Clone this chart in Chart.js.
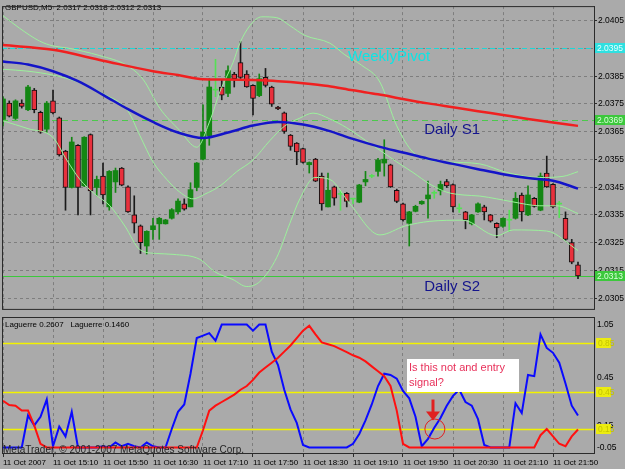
<!DOCTYPE html>
<html>
<head>
<meta charset="utf-8">
<script src="https://cdn.jsdelivr.net/npm/chart.js@4/dist/chart.umd.min.js"></script>
<style>
  html, body { margin: 0; padding: 0; background: #aaaaaa; }
  #wrap { position: relative; width: 625px; height: 469px; overflow: hidden; background: #aaaaaa; }
  #top { position: absolute; left: 0; top: 0; }
  #bot { position: absolute; left: 0; top: 315px; }
</style>
</head>
<body>
<div id="wrap">
  <canvas id="top" width="625" height="315"></canvas>
  <canvas id="bot" width="625" height="154"></canvas>
</div>
<script>
// ---------- data (GBPUSD M5, 11 Oct 2007 14:30 - 22:10) ----------
const timeLabels = ['11 Oct 2007', '11 Oct 15:10', '11 Oct 15:50', '11 Oct 16:30', '11 Oct 17:10', '11 Oct 17:50',
  '11 Oct 18:30', '11 Oct 19:10', '11 Oct 19:50', '11 Oct 20:30', '11 Oct 21:10', '11 Oct 21:50'];
const timeTickIdx = [0, 8, 16, 24, 32, 40, 48, 56, 64, 72, 80, 88];
const priceTicks = [2.0405, 2.0395, 2.0385, 2.0375, 2.0365, 2.0355, 2.0345, 2.0335, 2.0325, 2.0315, 2.0305];

const opens = [
  2.03694, 2.03753, 2.03698, 2.03753, 2.03729, 2.03800, 2.03720, 2.03659, 2.03761, 2.03700,
  2.03580, 2.03449, 2.03601, 2.03455, 2.03640, 2.03449, 2.03490, 2.03379, 2.03469, 2.03519,
  2.03451, 2.03350, 2.03311, 2.03238, 2.03297, 2.03318, 2.03318, 2.03338, 2.03361, 2.03390,
  2.03379, 2.03449, 2.03551, 2.03636, 2.03800, 2.03811, 2.03788, 2.03858, 2.03899, 2.03858,
  2.03817, 2.03780, 2.03846, 2.03811, 2.03739, 2.03718, 2.03638, 2.03609, 2.03589, 2.03531,
  2.03551, 2.03490, 2.03379, 2.03451, 2.03424, 2.03428, 2.03407, 2.03396, 2.03469, 2.03489,
  2.03507, 2.03537, 2.03531, 2.03439, 2.03390, 2.03320, 2.03363, 2.03390, 2.03408, 2.03428,
  2.03437, 2.03470, 2.03459, 2.03372, 2.03361, 2.03318, 2.03361, 2.03379, 2.03350, 2.03320,
  2.03309, 2.03331, 2.03338, 2.03422, 2.03350, 2.03410, 2.03367, 2.03501, 2.03460, 2.03389,
  2.03338, 2.03250, 2.03170];
const highs = [
  2.03776, 2.03761, 2.03765, 2.03765, 2.03817, 2.03806, 2.03724, 2.03759, 2.03800, 2.03703,
  2.03583, 2.03630, 2.03604, 2.03632, 2.03642, 2.03490, 2.03537, 2.03510, 2.03519, 2.03521,
  2.03455, 2.03419, 2.03314, 2.03293, 2.03338, 2.03341, 2.03334, 2.03373, 2.03408, 2.03408,
  2.03466, 2.03539, 2.03747, 2.03841, 2.03911, 2.03835, 2.03887, 2.03864, 2.03975, 2.03870,
  2.03819, 2.03858, 2.03878, 2.03814, 2.03741, 2.03721, 2.03640, 2.03611, 2.03591, 2.03541,
  2.03554, 2.03501, 2.03501, 2.03454, 2.03437, 2.03431, 2.03410, 2.03460, 2.03507, 2.03496,
  2.03554, 2.03621, 2.03533, 2.03443, 2.03393, 2.03363, 2.03385, 2.03401, 2.03472, 2.03437,
  2.03472, 2.03478, 2.03462, 2.03390, 2.03363, 2.03352, 2.03394, 2.03385, 2.03352, 2.03322,
  2.03340, 2.03367, 2.03431, 2.03429, 2.03455, 2.03413, 2.03501, 2.03562, 2.03463, 2.03399,
  2.03361, 2.03262, 2.03180];
const lows = [
  2.03671, 2.03703, 2.03694, 2.03735, 2.03726, 2.03718, 2.03644, 2.03648, 2.03714, 2.03562,
  2.03367, 2.03447, 2.03350, 2.03452, 2.03350, 2.03419, 2.03390, 2.03367, 2.03431, 2.03455,
  2.03359, 2.03285, 2.03211, 2.03209, 2.03262, 2.03262, 2.03317, 2.03335, 2.03355, 2.03367,
  2.03379, 2.03437, 2.03548, 2.03601, 2.03776, 2.03765, 2.03776, 2.03811, 2.03840, 2.03810,
  2.03710, 2.03776, 2.03811, 2.03741, 2.03729, 2.03644, 2.03583, 2.03531, 2.03537, 2.03501,
  2.03470, 2.03367, 2.03379, 2.03385, 2.03367, 2.03379, 2.03390, 2.03394, 2.03455, 2.03484,
  2.03490, 2.03490, 2.03449, 2.03394, 2.03328, 2.03238, 2.03361, 2.03388, 2.03338, 2.03410,
  2.03422, 2.03449, 2.03361, 2.03359, 2.03300, 2.03314, 2.03359, 2.03332, 2.03324, 2.03268,
  2.03305, 2.03291, 2.03335, 2.03328, 2.03347, 2.03378, 2.03365, 2.03449, 2.03375, 2.03340,
  2.03258, 2.03174, 2.03120];
const closes = [
  2.03768, 2.03706, 2.03761, 2.03741, 2.03811, 2.03729, 2.03648, 2.03753, 2.03718, 2.03566,
  2.03449, 2.03613, 2.03449, 2.03630, 2.03437, 2.03478, 2.03422, 2.03507, 2.03510, 2.03457,
  2.03361, 2.03320, 2.03250, 2.03291, 2.03311, 2.03338, 2.03332, 2.03369, 2.03400, 2.03371,
  2.03441, 2.03537, 2.03648, 2.03811, 2.03801, 2.03782, 2.03870, 2.03841, 2.03846, 2.03811,
  2.03770, 2.03841, 2.03817, 2.03749, 2.03732, 2.03651, 2.03597, 2.03577, 2.03539, 2.03539,
  2.03472, 2.03390, 2.03439, 2.03410, 2.03426, 2.03399, 2.03409, 2.03458, 2.03478, 2.03491,
  2.03548, 2.03551, 2.03451, 2.03399, 2.03332, 2.03361, 2.03381, 2.03399, 2.03422, 2.03430,
  2.03460, 2.03455, 2.03379, 2.03374, 2.03332, 2.03350, 2.03390, 2.03361, 2.03328, 2.03303,
  2.03338, 2.03333, 2.03410, 2.03361, 2.03422, 2.03381, 2.03490, 2.03451, 2.03379, 2.03391,
  2.03262, 2.03180, 2.03130];

// moving averages and bands as [bar, price]
const maSlow = [[0, 2.03962], [8, 2.03945], [16, 2.03906], [24, 2.03868], [28, 2.03854], [32, 2.03839],
  [36, 2.03838], [40, 2.03836], [44, 2.03832], [48, 2.03825], [52, 2.03815], [56, 2.03799], [60, 2.03785],
  [64, 2.03768], [68, 2.03752], [72, 2.03738], [76, 2.03724], [80, 2.03710], [84, 2.03696], [88, 2.03683],
  [92, 2.03671]];
const maFast = [[0, 2.03903], [4, 2.03892], [8, 2.03868], [12, 2.03832], [16, 2.03783], [20, 2.03731],
  [24, 2.03685], [28, 2.03647], [32, 2.03627], [36, 2.03647], [40, 2.03672], [44, 2.03685], [48, 2.03676],
  [52, 2.03654], [56, 2.03624], [60, 2.03597], [64, 2.03575], [68, 2.03553], [72, 2.03534], [76, 2.03515],
  [80, 2.03497], [84, 2.03483], [88, 2.03473], [92, 2.03445]];
const bandUpper = [[0, 2.04068], [2.7, 2.04022], [5.9, 2.03976], [8, 2.03959], [10.2, 2.03952], [15.5, 2.03924],
  [19.8, 2.03889], [22.4, 2.03839], [25.1, 2.03734], [28.3, 2.03654], [31, 2.03594], [33.1, 2.03689],
  [34.7, 2.03794], [36.8, 2.03899], [37.9, 2.03969], [39.5, 2.04032], [41.4, 2.04064], [43.8, 2.04061],
  [45.9, 2.04032], [48.3, 2.03997], [52.3, 2.03969], [54.7, 2.03927], [57.4, 2.03889], [60.3, 2.03829],
  [63, 2.03671], [65.6, 2.03576], [68.3, 2.03548], [71, 2.03541], [76.3, 2.03534], [80.6, 2.03503],
  [85.9, 2.03485], [89.6, 2.03489], [92, 2.03506]];
const bandMiddle = [[0, 2.03875], [4, 2.03868], [8, 2.03854], [12, 2.03829], [16, 2.03787], [20, 2.03724],
  [21.9, 2.03636], [24, 2.03541], [26.2, 2.03478], [28.3, 2.03432], [30.4, 2.03408], [32.3, 2.03425],
  [34.7, 2.03454], [37.4, 2.03506], [40, 2.03548], [42.7, 2.03618], [45.1, 2.03671], [47.5, 2.03699],
  [49.6, 2.03717], [52.3, 2.03696], [55, 2.03664], [57.6, 2.03625], [60.3, 2.03583], [63, 2.03541],
  [65.6, 2.03503], [68.3, 2.03461], [71, 2.03432], [73.6, 2.03422], [76.3, 2.03418], [79, 2.03408],
  [81.6, 2.03397], [85.9, 2.03383], [88.6, 2.03383], [92, 2.03355]];
const bandLower = [[0, 2.03689], [4, 2.03661], [8, 2.03629], [10.2, 2.03548], [12.3, 2.03478], [14.7, 2.03425],
  [17.1, 2.03383], [19.5, 2.03310], [21.9, 2.03225], [24.6, 2.03211], [27.2, 2.03208], [31.5, 2.03190],
  [33.9, 2.03145], [36.8, 2.03117], [39, 2.03092], [41.1, 2.03110], [43.8, 2.03197], [45.9, 2.03320],
  [47.5, 2.03408], [49.9, 2.03485], [52.3, 2.03478], [55.5, 2.03390], [60.3, 2.03278], [64.3, 2.03310],
  [68.3, 2.03327], [73.6, 2.03331], [79, 2.03275], [81.6, 2.03296], [87, 2.03292], [92, 2.03222]];

const weeklyPivot = 2.03952;
const dailyS1 = 2.03692;
const dailyS2 = 2.03130;

// Laguerre indicator window
const lagFast = [0, 0, 0, 0, 0.26, 0.18, 0.25, 0.39, 0.01, 0.17,
  0.09, 0.29, 0, 0, 0, 0, 0.01, 0, 0.04, 0.01,
  0.03, 0.01, 0, 0.04, 0.01, 0, 0, 0.15, 0.29, 0.35,
  0.6, 0.89, 0.91, 0.93, 0.87, 1, 1, 1, 1, 1,
  0.95, 1, 1, 0.78, 0.67, 0.47, 0.31, 0.2, 0.02, 0,
  0, 0, 0, 0, 0, 0, 0.03, 0.11, 0.22, 0.35,
  0.5, 0.6, 0.59, 0.56, 0.46, 0.4, 0.25, 0.01, 0.07, 0.16,
  0.24, 0.34, 0.42, 0.47, 0.37, 0.34, 0.23, 0.02, 0, 0,
  0, 0, 0.36, 0.28, 0.59, 0.58, 0.92, 0.81, 0.77, 0.69,
  0.52, 0.34, 0.2607];
const lagSlow = [0.38, 0.345, 0.34, 0.30, 0.30, 0.18, 0.03, 0, 0, 0,
  0, 0, 0, 0, 0, 0, 0, 0, 0, 0,
  0, 0, 0, 0, 0, 0, 0, 0, 0, 0,
  0, 0, 0.14, 0.30, 0.34, 0.37, 0.40, 0.43, 0.47, 0.50,
  0.55, 0.61, 0.65, 0.69, 0.73, 0.78, 0.83, 0.89, 0.95, 0.99,
  0.92, 0.855, 0.84, 0.825, 0.80, 0.775, 0.75, 0.73, 0.70, 0.66,
  0.62, 0.58, 0.50, 0.30, 0.03, 0, 0, 0, 0, 0,
  0, 0, 0, 0, 0, 0, 0, 0, 0, 0,
  0, 0, 0, 0, 0, 0, 0.10, 0.15, 0.09, 0.03,
  0.01, 0.09, 0.146];
const lagLevels = [0.85, 0.45, 0.15];

// ---------- layout / style ----------
const GRID = '#7e7e7e';
const FRAME = '#2b2b2b';
const FONT = "'Liberation Sans', Arial, sans-serif";
const NARROW = "'Liberation Sans Narrow', 'Liberation Sans', Arial, sans-serif";
const xMin = -0.16, xMax = 94.56;
const priceMin = 2.030114, priceMax = 2.041026;
const lagMin = -0.045, lagMax = 1.0616;

const kinds = closes.map((c, i) => {
  const d = c - opens[i];
  if (Math.abs(d) < 0.000025) return 'doji';
  return d > 0 ? 'up' : 'down';
});
const bodyFill = { up: '#138613', down: '#e8303c', doji: '#55e055' };
const wickFill = { up: '#138613', down: '#1a1a1a', doji: '#55e055' };

const pts = arr => arr.map(([x, y]) => ({ x, y }));
const idx = arr => arr.map((y, x) => ({ x, y }));

function hLine(ctx, a, y, color, dash, width) {
  ctx.save();
  ctx.strokeStyle = color;
  ctx.lineWidth = width;
  ctx.setLineDash(dash);
  ctx.beginPath();
  ctx.moveTo(a.left, Math.round(y) + 0.5);
  ctx.lineTo(a.right, Math.round(y) + 0.5);
  ctx.stroke();
  ctx.restore();
}

function frame(ctx, a) {
  ctx.save();
  ctx.strokeStyle = FRAME;
  ctx.lineWidth = 1;
  ctx.strokeRect(a.left + 0.5, a.top + 0.5, a.right - a.left, a.bottom - a.top);
  ctx.restore();
}

function valueBox(ctx, x, y, w, fill, text, textColor) {
  ctx.fillStyle = fill;
  ctx.fillRect(x, Math.round(y) - 5, w, 10);
  ctx.fillStyle = textColor;
  ctx.font = '8.5px ' + FONT;
  ctx.textAlign = 'left';
  ctx.textBaseline = 'middle';
  ctx.fillText(text, x + 2, Math.round(y) + 0.5);
}

// ---------- price window ----------
const topDecor = {
  id: 'topDecor',
  beforeDatasetsDraw(chart) {
    const { ctx, chartArea: a, scales: { y } } = chart;
    hLine(ctx, a, y.getPixelForValue(weeklyPivot), '#1ad8d8', [5, 3], 1);
    hLine(ctx, a, y.getPixelForValue(dailyS1), '#4cc84c', [6, 4], 1);
    hLine(ctx, a, y.getPixelForValue(dailyS2), '#3cc83c', [], 1);
  },
  afterDraw(chart) {
    const { ctx, chartArea: a, scales: { x, y } } = chart;
    ctx.save();
    ctx.font = '15px ' + FONT;
    ctx.textAlign = 'left';
    ctx.textBaseline = 'middle';
    ctx.fillStyle = '#0ee4e4';
    ctx.fillText('WeeklyPivot', x.getPixelForValue(55.2), y.getPixelForValue(2.03920));
    ctx.fillStyle = '#14148c';
    ctx.fillText('Daily S1', x.getPixelForValue(67.4), y.getPixelForValue(2.03657));
    ctx.fillText('Daily S2', x.getPixelForValue(67.4), y.getPixelForValue(2.03092));

    ctx.font = '8px ' + FONT;
    ctx.fillStyle = '#000';
    ctx.fillText('GBPUSD,M5  2.0317 2.0318 2.0312 2.0313', 5, 8);

    valueBox(ctx, a.right + 1, y.getPixelForValue(weeklyPivot), 30, '#2fe0e0', weeklyPivot.toFixed(4), '#e6ffff');
    valueBox(ctx, a.right + 1, y.getPixelForValue(dailyS1), 30, '#3cc83c', dailyS1.toFixed(4), '#dcffdc');
    valueBox(ctx, a.right + 1, y.getPixelForValue(dailyS2), 30, '#3cc83c', dailyS2.toFixed(4), '#dcffdc');
    frame(ctx, a);
    ctx.restore();
  }
};

new Chart(document.getElementById('top'), {
  type: 'bar',
  data: {
    datasets: [
      { type: 'line', label: 'MA slow', data: pts(maSlow), borderColor: '#f02020', borderWidth: 2.5,
        pointRadius: 0, cubicInterpolationMode: 'monotone', order: 1 },
      { type: 'line', label: 'MA fast', data: pts(maFast), borderColor: '#1414c8', borderWidth: 2.5,
        pointRadius: 0, cubicInterpolationMode: 'monotone', order: 2 },
      { type: 'line', label: 'Upper', data: pts(bandUpper), borderColor: '#9cf09c', borderWidth: 1,
        pointRadius: 0, cubicInterpolationMode: 'monotone', order: 3 },
      { type: 'line', label: 'Middle', data: pts(bandMiddle), borderColor: '#9cf09c', borderWidth: 1,
        pointRadius: 0, cubicInterpolationMode: 'monotone', order: 4 },
      { type: 'line', label: 'Lower', data: pts(bandLower), borderColor: '#9cf09c', borderWidth: 1,
        pointRadius: 0, cubicInterpolationMode: 'monotone', order: 5 },
      { label: 'Body', data: closes.map((c, i) => ({ x: i, y: [opens[i], c] })),
        backgroundColor: kinds.map(k => bodyFill[k]),
        borderColor: kinds.map(k => k === 'down' ? '#111111' : bodyFill[k]),
        borderWidth: kinds.map(k => k === 'down' ? 1 : 0),
        borderSkipped: false, barThickness: 5, minBarLength: 1, grouped: false, order: 10 },
      { label: 'Wick', data: closes.map((c, i) => ({ x: i, y: [lows[i], highs[i]] })),
        backgroundColor: kinds.map(k => wickFill[k]),
        barThickness: 1, grouped: false, order: 11 }
    ]
  },
  options: {
    responsive: false,
    animation: false,
    events: [],
    layout: { padding: { left: 2, top: 2, right: 0, bottom: 2 } },
    plugins: { legend: { display: false }, tooltip: { enabled: false } },
    scales: {
      x: {
        type: 'linear', min: xMin, max: xMax, offset: false,
        afterBuildTicks: s => { s.ticks = timeTickIdx.map(v => ({ value: v })); },
        afterFit: s => { s.height = 0; },
        ticks: { display: false },
        grid: { color: GRID, drawTicks: false, offset: false },
        border: { display: false, dash: [3, 3] }
      },
      y: {
        position: 'right', min: priceMin, max: priceMax, beginAtZero: false,
        afterBuildTicks: s => { s.ticks = priceTicks.map(v => ({ value: v })); },
        afterFit: s => { s.width = 31; },
        ticks: { callback: v => v.toFixed(4), color: '#000', padding: 1, autoSkip: false,
          font: { family: FONT, size: 8.5 } },
        grid: { color: GRID, tickLength: 3, tickColor: FRAME },
        border: { display: true, color: FRAME, dash: [3, 3] }
      }
    }
  },
  plugins: [topDecor]
});

// ---------- Laguerre window ----------
const note = { x0: 64.6, x1: 82.6, v0: 0.72, v1: 0.45 };
const arrow = { x: 68.8, vFrom: 0.39, vTo: 0.22 };
const ring = { x: 69.1, v: 0.15, r: 10 };
const lagAxisLabels = [['1.05', 1.0], ['0.45', 0.565], ['0.15', 0.18], ['-0.05', 0.0]];

const botDecor = {
  id: 'botDecor',
  beforeDatasetsDraw(chart) {
    const { ctx, chartArea: a, scales: { y } } = chart;
    lagLevels.forEach(v => hLine(ctx, a, y.getPixelForValue(v), '#f2f200', [], 1.5));
  },
  afterDatasetsDraw(chart) {
    const { ctx, scales: { x, y } } = chart;
    ctx.save();
    const bx0 = Math.round(x.getPixelForValue(note.x0)), bx1 = Math.round(x.getPixelForValue(note.x1));
    const by0 = Math.round(y.getPixelForValue(note.v0)), by1 = Math.round(y.getPixelForValue(note.v1));
    ctx.fillStyle = '#ffffff';
    ctx.fillRect(bx0, by0, bx1 - bx0, by1 - by0);
    ctx.fillStyle = '#e8305a';
    ctx.font = '11px ' + FONT;
    ctx.textAlign = 'left';
    ctx.textBaseline = 'middle';
    ctx.fillText('Is this not and entry', bx0 + 2, by0 + 9);
    ctx.fillText('signal?', bx0 + 2, by0 + 24);

    const ax = x.getPixelForValue(arrow.x);
    const ay0 = y.getPixelForValue(arrow.vFrom), ay1 = y.getPixelForValue(arrow.vTo);
    ctx.strokeStyle = '#e02020';
    ctx.fillStyle = '#e02020';
    ctx.lineWidth = 3;
    ctx.beginPath();
    ctx.moveTo(ax, ay0);
    ctx.lineTo(ax, ay1 - 6);
    ctx.stroke();
    ctx.beginPath();
    ctx.moveTo(ax - 7, ay1 - 9);
    ctx.lineTo(ax + 7, ay1 - 9);
    ctx.lineTo(ax, ay1);
    ctx.closePath();
    ctx.fill();

    ctx.lineWidth = 1;
    ctx.beginPath();
    ctx.arc(x.getPixelForValue(ring.x), y.getPixelForValue(ring.v), ring.r, 0, Math.PI * 2);
    ctx.stroke();
    ctx.restore();
  },
  afterDraw(chart) {
    const { ctx, chartArea: a, scales: { y } } = chart;
    ctx.save();
    ctx.textAlign = 'left';
    ctx.textBaseline = 'middle';
    ctx.fillStyle = '#000';
    ctx.font = '8px ' + FONT;
    ctx.fillText('Laguerre 0.2607   Laguerre 0.1460', 5, 10);

    ctx.font = '8.5px ' + FONT;
    lagAxisLabels.forEach(([t, v]) => ctx.fillText(t, a.right + 3, y.getPixelForValue(v)));
    lagLevels.forEach(v => valueBox(ctx, a.right + 2, y.getPixelForValue(v), 15, '#ecec10', v.toFixed(2), '#c4c400'));

    ctx.fillStyle = '#262626';
    ctx.font = '10px ' + FONT;
    ctx.textBaseline = 'alphabetic';
    ctx.fillText('MetaTrader, \u00a9 2001-2007 MetaQuotes Software Corp.', 3, a.bottom);
    frame(ctx, a);
    ctx.restore();
  }
};

new Chart(document.getElementById('bot'), {
  type: 'line',
  data: {
    datasets: [
      { label: 'Laguerre 0.1460', data: idx(lagSlow), borderColor: '#ff1010', borderWidth: 2,
        pointRadius: 0, tension: 0, order: 1 },
      { label: 'Laguerre 0.2607', data: idx(lagFast), borderColor: '#0a0aff', borderWidth: 2,
        pointRadius: 0, tension: 0, order: 2 }
    ]
  },
  options: {
    responsive: false,
    animation: false,
    events: [],
    layout: { padding: { left: 2, top: 2, right: 0, bottom: 0 } },
    plugins: { legend: { display: false }, tooltip: { enabled: false } },
    scales: {
      x: {
        type: 'linear', min: xMin, max: xMax, offset: false,
        afterBuildTicks: s => { s.ticks = timeTickIdx.map(v => ({ value: v })); },
        afterFit: s => { s.height = 16; },
        ticks: { callback: (v, i) => timeLabels[i], align: 'start', maxRotation: 0, autoSkip: false,
          padding: 1, color: '#000', font: { family: NARROW, size: 8 } },
        grid: { color: GRID, tickLength: 4, tickColor: FRAME, offset: false },
        border: { display: true, color: FRAME, dash: [3, 3] }
      },
      y: {
        position: 'right', min: lagMin, max: lagMax,
        afterFit: s => { s.width = 31; },
        ticks: { display: false },
        grid: { display: false },
        border: { display: true, color: FRAME }
      }
    }
  },
  plugins: [botDecor]
});
</script>
</body>
</html>
